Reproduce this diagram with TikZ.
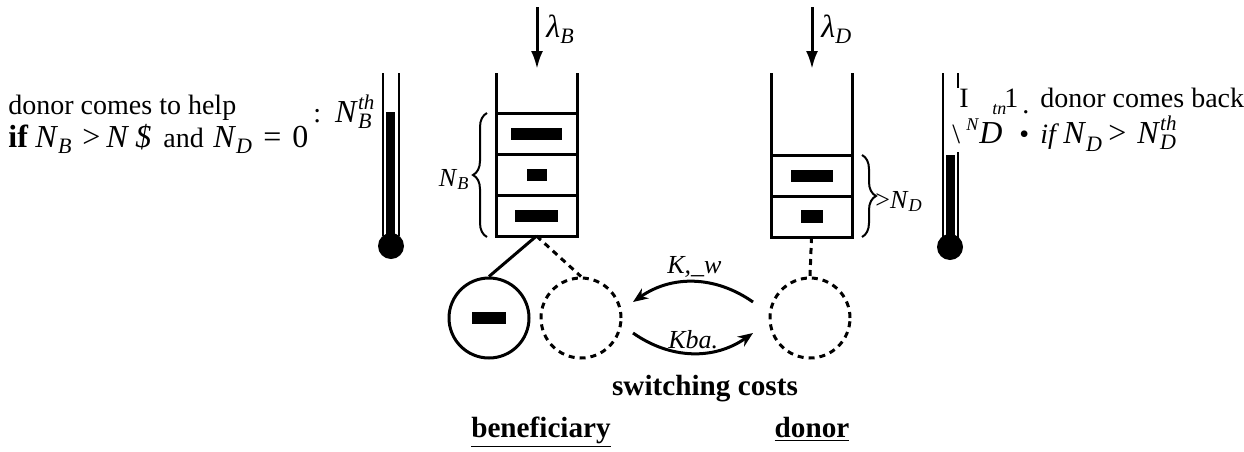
\documentclass[tikz,border=0pt]{standalone}
\usepackage{fontspec}
\setmainfont{Liberation Serif}
\usetikzlibrary{arrows.meta,decorations.pathreplacing}
\newcommand{\sbs}[1]{\textsubscript{\textit{#1}}}
\newcommand{\BN}{{\fontsize{16}{16}\selectfont\textit{N}}}
\newcommand{\lsb}[1]{\raisebox{-3pt}{\fontsize{11}{11}\selectfont\textit{#1}}}
\newcommand{\bigsym}[1]{{\fontsize{16}{16}\selectfont #1}}
\newcommand{\stk}[2]{\rlap{\raisebox{6.5pt}{\fontsize{10.5}{10}\selectfont\textit{#1}}}\raisebox{-3pt}{\fontsize{11}{10}\selectfont\textit{#2}}}
\newcommand{\bx}[2]{\makebox[#1][l]{#2}}
\begin{document}
\begin{tikzpicture}[x=0.5pt,y=-0.5pt,
  txt/.style={font=\fontsize{14}{16}\selectfont, inner sep=0, anchor=base west},
  lbl/.style={font=\fontsize{13}{15}\selectfont, inner sep=0, anchor=base west},
  boldtxt/.style={font=\fontsize{14.6}{17}\selectfont\bfseries, inner sep=0, anchor=base},
  wall/.style={line width=1.5pt},
  slot/.style={draw, line width=1.5pt, minimum width=40.5pt, minimum height=20.5pt, inner sep=0, outer sep=0},
  bar/.style={fill=black, inner sep=0, minimum height=6pt},
  ring/.style={circle, draw, line width=1.5pt, minimum size=40pt, inner sep=0},
  dashring/.style={ring, dash pattern=on 3pt off 2.5pt},
  inarrow/.style={line width=1.5pt, -{Latex[length=9pt,width=6pt]}},
  swarrow/.style={line width=1.5pt, -{Stealth[length=7.5pt,width=6pt]}},
  brc/.style={line width=1pt, decorate, decoration={brace, amplitude=7pt}},
  tube/.style={line width=1pt}
]
\useasboundingbox (0,0) rectangle (1244,451);

% ---------- beneficiary queue
\node[slot] (b1) at (536.5,133.5) {};
\node[slot] (b2) at (536.5,174.5) {};
\node[slot] (b3) at (536.5,215.5) {};
\draw[wall] (496,73) -- (b1.north west);
\draw[wall] (577,73) -- (b1.north east);
\node[bar, minimum width=25.5pt] (bb1) at (b1) {};
\node[bar, minimum width=10pt] (bb2) at (b2) {};
\node[bar, minimum width=21.5pt] (bb3) at (b3) {};

% ---------- donor queue
\node[slot] (d1) at (811.5,175.5) {};
\node[slot] (d2) at (811.5,216.5) {};
\draw[wall] (771,73) -- (d1.north west);
\draw[wall] (852,73) -- (d1.north east);
\node[bar, minimum width=21pt] (db1) at (d1) {};
\node[bar, minimum width=11pt, minimum height=6.5pt] (db2) at (d2) {};

% ---------- arrivals
\coordinate (lBs) at (537,7);
\coordinate (lBe) at (537,69);
\draw[inarrow] (lBs) -- (lBe);
\node[txt] (lamB) at (546,37) {\bigsym{\textit{λ}}\lsb{B}};
\coordinate (lDs) at (812,7);
\coordinate (lDe) at (812,69);
\draw[inarrow] (lDs) -- (lDe);
\node[txt] (lamD) at (821,37) {\bigsym{\textit{λ}}\lsb{D}};

% ---------- braces
\draw[brc] (487,237) -- (487,113);
\node[lbl, anchor=base east] (NB) at (470,186) {\textit{N}\sbs{B}};
\draw[brc] (862,155) -- (862,237);
\node[lbl] (ND) at (875,208) {>\textit{N}\sbs{D}};

% ---------- servers
\node[ring] (c1) at (489,318) {};
\node[bar, minimum width=17pt] (cb) at (c1) {};
\node[dashring] (c2) at (581,318) {};
\node[dashring] (c3) at (810,318) {};
\draw[wall] (b3.south) -- (c1.north);
\draw[wall, dash pattern=on 3pt off 2.5pt] (b3.south) -- (c2.north);
\draw[wall, dash pattern=on 3pt off 2.5pt] (d2.south) -- (c3.north);

% ---------- switching arrows
\coordinate (kwA) at (753,302);
\coordinate (kwB) at (633,302);
\coordinate (kbA) at (633,333);
\coordinate (kbB) at (753,333);
\draw[swarrow] (kwA) to[bend right=35] (kwB);
\draw[swarrow] (kbA) to[bend right=35] (kbB);
\node[lbl, font=\fontsize{13}{14}\selectfont] (kw) at (667,273) {\textit{K,\_w}};
\node[lbl, font=\fontsize{13}{14}\selectfont] (kb) at (668,348) {\textit{Kba.}};

\node[boldtxt] (sw) at (705,395) {switching costs};
\node[boldtxt] (ben) at (541,437) {\underline{beneficiary}};
\node[boldtxt] (don) at (812,437) {\underline{donor}};

% ---------- left thermometer
\draw[tube] (383,73) -- (383,236);
\draw[tube] (399,73) -- (399,236);
\fill (386,112) rectangle (395,240);
\fill (391,246) circle[radius=6.5pt];

% ---------- right thermometer
\draw[tube] (943,73) -- (943,238);
\draw[tube] (958,73) -- (958,88);
\draw[tube] (958,152) -- (958,238);
\fill (946,155) rectangle (955,242);
\fill (950,247) circle[radius=6.5pt];

% ---------- left text
\node[txt] (lt1) at (8,114) {donor comes to help};
\node[txt] (lt2) at (8,147) {\bx{13.5pt}{\bigsym{\textbf{if}}}\bx{23.5pt}{\BN\lsb{B}}\bx{12pt}{\bigsym{>}}\bx{14.5pt}{\BN}\bx{14pt}{\bigsym{\textit{\$}}}\bx{25pt}{and}\bx{25pt}{\BN\lsb{D}}\bx{14.5pt}{\bigsym{=}}\bigsym{0}};
\node[txt] (lt3) at (313,122) {:\enspace\BN\stk{th}{B}};

% ---------- right text
\node[txt] (rt1) at (1040,107) {donor comes back};
\node[txt] (g1) at (959,107) {I};
\node[txt, font=\fontsize{9}{9}\selectfont\itshape] (g2) at (992,114) {tn};
\node[txt] (g3) at (1004,107) {1};
\node[txt] (g4) at (1022,113) {.};
\node[txt] (g5) at (952,143) {\textbackslash};
\node[txt, font=\fontsize{9}{9}\selectfont\itshape] (g6) at (966,130) {N};
\node[txt] (g7) at (979,143) {\bigsym{\textit{D}}};
\node[txt] (g8) at (1019,143) {•};
\node[txt] (rt2) at (1040,143) {\bx{11.5pt}{\textit{if}}\bx{22.5pt}{\BN\raisebox{-1pt}{\lsb{D}}}\bx{14.5pt}{\bigsym{>}}\BN\stk{th}{D}};
\end{tikzpicture}
\end{document}
